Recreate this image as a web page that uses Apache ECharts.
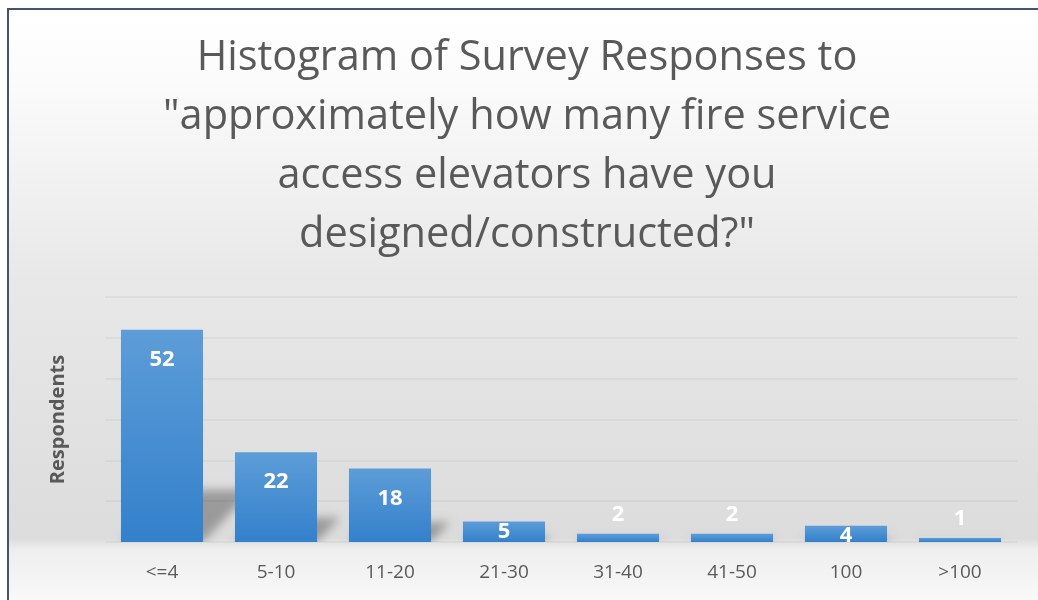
<!DOCTYPE html>
<html>
<head>
<meta charset="utf-8">
<title>Survey Responses Histogram</title>
<script src="https://cdn.jsdelivr.net/npm/echarts@6/dist/echarts.min.js"></script>
<style>
  html, body { margin: 0; padding: 0; background: #ffffff; }
  #chart { width: 1038px; height: 600px; }
</style>
</head>
<body>
<div id="chart"></div>
<script>
// Response buckets and respondent counts
const categories = ['<=4', '5-10', '11-20', '21-30', '31-40', '41-50', '100', '>100'];
const respondents = [52, 22, 18, 5, 2, 2, 4, 1];

const titleLines = [
  'Histogram of Survey Responses to',
  '"approximately how many fire service',
  'access elevators have you',
  'designed/constructed?"'
];

const FONT = '"Open Sans", "Liberation Sans", sans-serif';
const BAR_RATIO = 0.72;
// The shadow shape is drawn off to the side and only its blurred
// canvas shadow is shifted back under the bar.
const SHADOW_SHIFT = 3000;

// Place value labels by bar height: inside the top for tall bars,
// flush at the top for short ones, above the bar for the tiniest.
function labelFor(v) {
  if (v >= 10) return { position: 'insideTop', distance: 19 };
  if (v >= 3) return { position: 'insideTop', distance: -1 };
  return { position: 'top', distance: 8 };
}

const barData = respondents.map(v => ({ value: v, label: labelFor(v) }));

// Soft perspective shadow cast back and to the right of each bar
function renderShadow(params, api) {
  const i = api.value(0);
  const v = api.value(1);
  const top = api.coord([i, v]);
  const base = api.coord([i, 0]);
  const band = api.size([1, 0])[0];
  const w = band * BAR_RATIO;
  const x0 = base[0] - w / 2 - SHADOW_SHIFT;
  const x1 = base[0] + w / 2 - SHADOW_SHIFT;
  const h = base[1] - top[1];
  const sh = Math.min(h * 0.27, 52);
  const sx = sh * 0.95;
  return {
    type: 'polygon',
    shape: {
      points: [
        [x0, base[1]], [x1, base[1]],
        [x1 + sx, base[1] - sh], [x0 + sx, base[1] - sh]
      ]
    },
    style: {
      fill: '#000000',
      shadowColor: 'rgba(0,0,0,0.3)',
      shadowBlur: 10,
      shadowOffsetX: SHADOW_SHIFT,
      shadowOffsetY: 0
    }
  };
}

const chart = echarts.init(document.getElementById('chart'), null, { renderer: 'canvas' });

chart.setOption({
  animation: false,
  backgroundColor: '#ffffff',
  graphic: [
    {
      type: 'rect',
      z: -10,
      silent: true,
      shape: { x: 8, y: 9, width: 1040, height: 600 },
      style: {
        fill: {
          type: 'linear', x: 0, y: 0, x2: 0, y2: 1,
          colorStops: [
            { offset: 0, color: '#ffffff' },
            { offset: 0.12, color: '#fbfbfb' },
            { offset: 0.45, color: '#e8e8e8' },
            { offset: 0.88, color: '#dcdcdc' },
            { offset: 0.9, color: '#eeeeee' },
            { offset: 1, color: '#fbfbfb' }
          ]
        },
        stroke: '#44546a',
        lineWidth: 2
      }
    }
  ],
  title: {
    text: titleLines.join('\n'),
    left: 522,
    top: 24,
    textAlign: 'center',
    textStyle: {
      fontFamily: FONT,
      fontSize: 41.5,
      fontWeight: 'normal',
      color: '#595959',
      lineHeight: 59
    }
  },
  grid: { left: 105, right: 21, top: 297, bottom: 58, containLabel: false },
  xAxis: {
    type: 'category',
    data: categories,
    axisLine: { show: false },
    axisTick: { show: false },
    axisLabel: {
      color: '#595959',
      fontFamily: FONT,
      fontSize: 19,
      margin: 21
    }
  },
  yAxis: {
    type: 'value',
    min: 0,
    max: 60,
    interval: 10,
    name: 'Respondents',
    nameLocation: 'middle',
    nameGap: 37,
    nameTextStyle: {
      color: '#595959',
      fontFamily: FONT,
      fontSize: 20,
      fontWeight: 'bold'
    },
    axisLabel: { show: false },
    axisLine: { show: false },
    axisTick: { show: false },
    splitLine: { lineStyle: { color: 'rgba(0,0,0,0.04)', width: 2 } }
  },
  series: [
    {
      type: 'custom',
      renderItem: renderShadow,
      data: respondents.map((v, i) => [i, v]),
      z: 1,
      silent: true,
      clip: true
    },
    {
      type: 'bar',
      data: barData,
      barWidth: (BAR_RATIO * 100) + '%',
      z: 3,
      itemStyle: {
        color: {
          type: 'linear', x: 0, y: 0, x2: 0, y2: 1,
          colorStops: [
            { offset: 0, color: '#5d9dd8' },
            { offset: 1, color: '#3380cb' }
          ]
        }
      },
      label: {
        show: true,
        formatter: '{c}',
        color: '#ffffff',
        fontFamily: FONT,
        fontSize: 22,
        fontWeight: 'bold'
      }
    }
  ]
});
</script>
</body>
</html>
